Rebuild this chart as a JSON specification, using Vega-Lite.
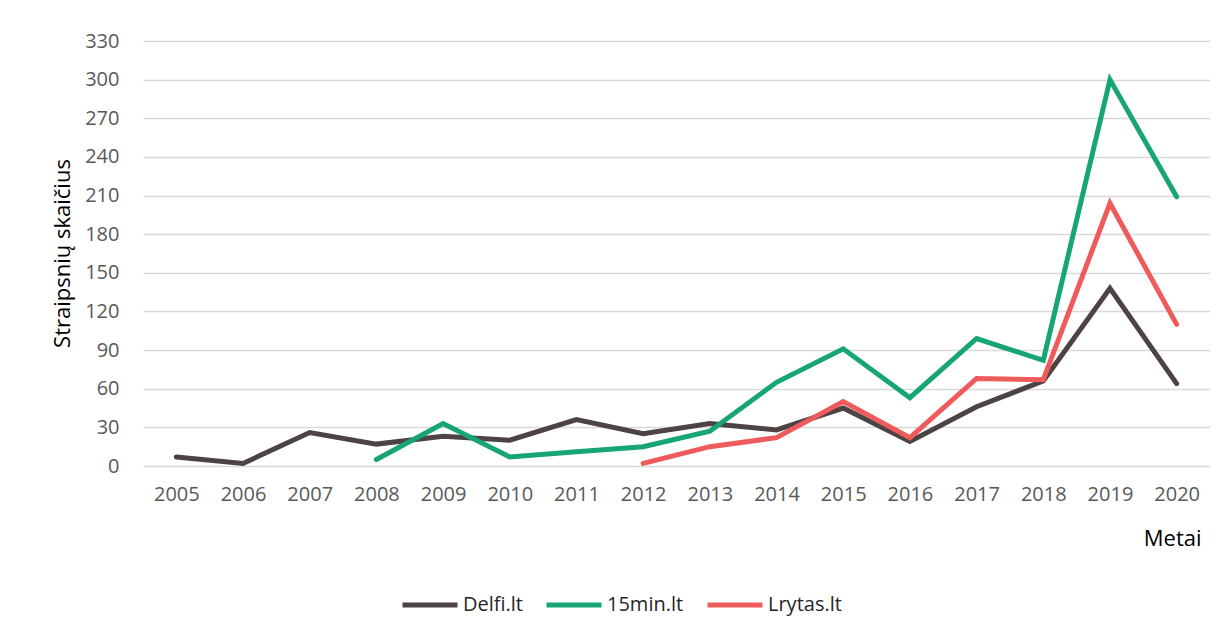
{
  "$schema": "https://vega.github.io/schema/vega-lite/v6.json",
  "width": 1067,
  "height": 425,
  "autosize": {"type": "none"},
  "padding": {"left": 143, "top": 41, "right": 19, "bottom": 171},
  "background": "white",
  "config": {
    "view": {"stroke": null},
    "font": "Open Sans",
    "axis": {"labelFont": "Open Sans", "titleFont": "Open Sans"},
    "legend": {"labelFont": "Open Sans"}
  },
  "data": {
    "values": [
      {"year": "2005", "site": "Delfi.lt", "count": 7},
      {"year": "2006", "site": "Delfi.lt", "count": 2},
      {"year": "2007", "site": "Delfi.lt", "count": 26},
      {"year": "2008", "site": "Delfi.lt", "count": 17},
      {"year": "2009", "site": "Delfi.lt", "count": 23},
      {"year": "2010", "site": "Delfi.lt", "count": 20},
      {"year": "2011", "site": "Delfi.lt", "count": 36},
      {"year": "2012", "site": "Delfi.lt", "count": 25},
      {"year": "2013", "site": "Delfi.lt", "count": 33},
      {"year": "2014", "site": "Delfi.lt", "count": 28},
      {"year": "2015", "site": "Delfi.lt", "count": 45},
      {"year": "2016", "site": "Delfi.lt", "count": 19},
      {"year": "2017", "site": "Delfi.lt", "count": 46},
      {"year": "2018", "site": "Delfi.lt", "count": 66},
      {"year": "2019", "site": "Delfi.lt", "count": 138},
      {"year": "2020", "site": "Delfi.lt", "count": 64},
      {"year": "2008", "site": "15min.lt", "count": 5},
      {"year": "2009", "site": "15min.lt", "count": 33},
      {"year": "2010", "site": "15min.lt", "count": 7},
      {"year": "2011", "site": "15min.lt", "count": 11},
      {"year": "2012", "site": "15min.lt", "count": 15},
      {"year": "2013", "site": "15min.lt", "count": 27},
      {"year": "2014", "site": "15min.lt", "count": 65},
      {"year": "2015", "site": "15min.lt", "count": 91},
      {"year": "2016", "site": "15min.lt", "count": 53},
      {"year": "2017", "site": "15min.lt", "count": 99},
      {"year": "2018", "site": "15min.lt", "count": 82},
      {"year": "2019", "site": "15min.lt", "count": 300},
      {"year": "2020", "site": "15min.lt", "count": 209},
      {"year": "2012", "site": "Lrytas.lt", "count": 2},
      {"year": "2013", "site": "Lrytas.lt", "count": 15},
      {"year": "2014", "site": "Lrytas.lt", "count": 22},
      {"year": "2015", "site": "Lrytas.lt", "count": 50},
      {"year": "2016", "site": "Lrytas.lt", "count": 22},
      {"year": "2017", "site": "Lrytas.lt", "count": 68},
      {"year": "2018", "site": "Lrytas.lt", "count": 67},
      {"year": "2019", "site": "Lrytas.lt", "count": 204},
      {"year": "2020", "site": "Lrytas.lt", "count": 110}
    ]
  },
  "mark": {"type": "line", "strokeWidth": 5, "strokeCap": "round", "strokeJoin": "miter"},
  "encoding": {
    "x": {
      "field": "year",
      "type": "ordinal",
      "scale": {"type": "point", "padding": 0.5},
      "axis": {
        "title": "Metai",
        "titleAnchor": "end",
        "titleAlign": "right",
        "titleBaseline": "middle",
        "titleX": 1058,
        "titleY": 72,
        "titleFontSize": 22,
        "titleFontWeight": "normal",
        "titleColor": "#000000",
        "labelAngle": 0,
        "labelFontSize": 20,
        "labelColor": "#595959",
        "labelPadding": 18,
        "domain": false,
        "ticks": false,
        "grid": false
      }
    },
    "y": {
      "field": "count",
      "type": "quantitative",
      "scale": {"domain": [0, 330], "nice": false},
      "axis": {
        "title": "Straipsnių skaičius",
        "titleFontSize": 22,
        "titleFontWeight": "normal",
        "titleColor": "#000000",
        "titleX": -81,
        "titleY": 212,
        "titleAlign": "center",
        "titleBaseline": "middle",
        "values": [0, 30, 60, 90, 120, 150, 180, 210, 240, 270, 300, 330],
        "labelFontSize": 20,
        "labelColor": "#595959",
        "labelPadding": 24,
        "domain": false,
        "ticks": false,
        "grid": true,
        "gridColor": "#d9d9d9",
        "gridWidth": 1.5
      }
    },
    "color": {
      "field": "site",
      "type": "nominal",
      "scale": {
        "domain": ["Delfi.lt", "15min.lt", "Lrytas.lt"],
        "range": ["#4d4343", "#17a673", "#ef5b5b"]
      },
      "legend": {
        "title": null,
        "orient": "none",
        "direction": "horizontal",
        "legendX": 257,
        "legendY": 534,
        "symbolType": "stroke",
        "symbolSize": 3025,
        "symbolStrokeWidth": 5,
        "labelFontSize": 20,
        "labelColor": "#262626",
        "labelOffset": 3,
        "columnPadding": 13
      }
    }
  }
}
